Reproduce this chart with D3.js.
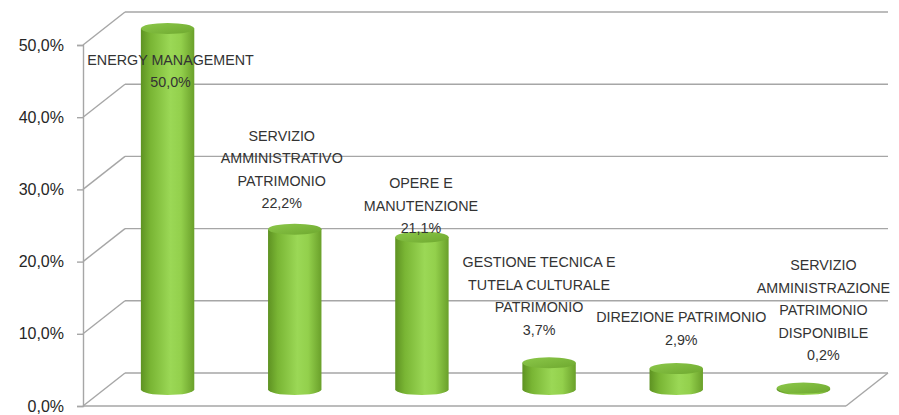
<!DOCTYPE html>
<html>
<head>
<meta charset="utf-8">
<script src="https://cdn.jsdelivr.net/npm/d3@7"></script>
<style>
  body { margin: 0; background: #fff; }
  svg { display: block; }
</style>
</head>
<body>
<svg width="899" height="415"></svg>
<script>
// categories and values (share of total)
const categories = [
  "ENERGY MANAGEMENT",
  "SERVIZIO AMMINISTRATIVO PATRIMONIO",
  "OPERE E MANUTENZIONE",
  "GESTIONE TECNICA E TUTELA CULTURALE PATRIMONIO",
  "DIREZIONE PATRIMONIO",
  "SERVIZIO AMMINISTRAZIONE PATRIMONIO DISPONIBILE"
];
const values = [0.500, 0.222, 0.211, 0.037, 0.029, 0.002];
const labelLines = [
  ["ENERGY MANAGEMENT"],
  ["SERVIZIO", "AMMINISTRATIVO", "PATRIMONIO"],
  ["OPERE E", "MANUTENZIONE"],
  ["GESTIONE TECNICA E", "TUTELA CULTURALE", "PATRIMONIO"],
  ["DIREZIONE PATRIMONIO"],
  ["SERVIZIO", "AMMINISTRAZIONE", "PATRIMONIO", "DISPONIBILE"]
];
const yTicks = [0, 0.1, 0.2, 0.3, 0.4, 0.5];

// label nudges, as excel placed them
const labelDx = [3, -13, -1, -10, 5, 20];
const labelDy = [84.5, 5, 22, -2, 2.4, -2];

const svg = d3.select("svg");
const fmt = v => d3.format(".1f")(v * 100).replace(".", ",") + "%";

const plotLeft = 83, plotRight = 846, plotBottom = 406, plotTop = 45;
const depth = {x: 42, y: -33};   // back wall offset
const mid = {x: depth.x / 2, y: depth.y / 2};

const y = d3.scaleLinear().domain([0, 0.5]).range([plotBottom, plotTop]);
const x = d3.scaleBand().domain(categories).range([plotLeft, plotRight])
  .paddingInner(0.58).paddingOuter(0.29);

const defs = svg.append("defs");
const body = defs.append("linearGradient").attr("id", "body");
[["0%", "#5e9222"], ["18%", "#79b534"], ["55%", "#9bd856"], ["75%", "#93d04c"], ["100%", "#6aa02a"]]
  .forEach(s => body.append("stop").attr("offset", s[0]).attr("stop-color", s[1]));
const cap = defs.append("linearGradient").attr("id", "cap").attr("x1", 0).attr("y1", 0).attr("x2", 1).attr("y2", 1);
[["0%", "#8cc84a"], ["100%", "#6ea82f"]]
  .forEach(s => cap.append("stop").attr("offset", s[0]).attr("stop-color", s[1]));

const grid = svg.append("g").attr("stroke", "#a6a6a6").attr("stroke-width", 1.4).attr("fill", "none");

// back wall gridlines and left wall diagonals
yTicks.forEach(t => {
  grid.append("line")
    .attr("x1", plotLeft + depth.x).attr("x2", plotRight + depth.x)
    .attr("y1", y(t) + depth.y).attr("y2", y(t) + depth.y);
  grid.append("line")
    .attr("x1", plotLeft).attr("y1", y(t))
    .attr("x2", plotLeft + depth.x).attr("y2", y(t) + depth.y);
});
// floor front edge and right edge
grid.append("line").attr("x1", plotLeft).attr("x2", plotRight).attr("y1", plotBottom).attr("y2", plotBottom);
grid.append("line").attr("x1", plotRight).attr("y1", plotBottom)
  .attr("x2", plotRight + depth.x).attr("y2", plotBottom + depth.y);

// y axis
const yAxis = d3.axisLeft(y).tickValues(yTicks).tickFormat(fmt).tickSize(6).tickPadding(13);
const ax = svg.append("g").attr("transform", `translate(${plotLeft},0)`).call(yAxis);
ax.select(".domain").attr("stroke", "#a6a6a6").attr("stroke-width", 1.4);
ax.selectAll(".tick line").attr("stroke", "#a6a6a6").attr("stroke-width", 1.4);
ax.selectAll(".tick text")
  .attr("fill", "#262626")
  .style("font-family", "'Liberation Sans', Arial, sans-serif")
  .style("font-size", "16px");

// cylinders
const rx = x.bandwidth() / 2, ry = 5.5;
const bars = svg.append("g").selectAll("g")
  .data(categories.map((c, i) => ({c, v: values[i], i})))
  .join("g");

bars.append("path")
  .attr("fill", "url(#body)")
  .attr("d", d => {
    const cx = x(d.c) + rx + mid.x;
    const yb = y(0) + mid.y, yt = y(d.v) + mid.y;
    return `M${cx - rx},${yt} L${cx - rx},${yb} A${rx},${ry} 0 0 0 ${cx + rx},${yb} L${cx + rx},${yt} Z`;
  });
bars.append("ellipse")
  .attr("fill", "url(#cap)")
  .attr("cx", d => x(d.c) + rx + mid.x)
  .attr("cy", d => y(d.v) + mid.y)
  .attr("rx", rx).attr("ry", ry);

// data labels
const lineH = 22.5;
const labels = svg.append("g")
  .attr("fill", "#333")
  .attr("text-anchor", "middle")
  .style("font-family", "'Liberation Sans', Arial, sans-serif")
  .style("font-size", "14.3px");

categories.forEach((c, i) => {
  const lines = labelLines[i].concat([fmt(values[i])]);
  const cx = x(c) + rx + mid.x + labelDx[i];
  const lastY = y(values[i]) + mid.y - 31 + labelDy[i];
  lines.forEach((l, k) => {
    labels.append("text")
      .attr("x", cx)
      .attr("y", lastY - (lines.length - 1 - k) * lineH)
      .attr("dy", "0.35em")
      .text(l);
  });
});
</script>
</body>
</html>
